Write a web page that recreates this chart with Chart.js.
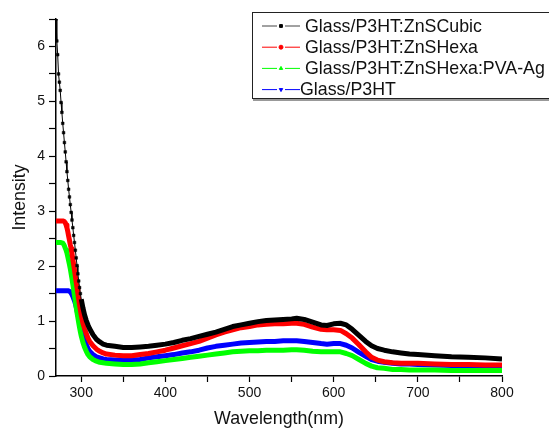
<!DOCTYPE html>
<html>
<head>
<meta charset="utf-8">
<script src="https://cdn.jsdelivr.net/npm/chart.js@4.4.1/dist/chart.umd.min.js"></script>
<style>
  html, body { margin: 0; padding: 0; background: #fff; }
  #wrap { width: 549px; height: 428px; }
</style>
</head>
<body>
<div id="wrap"><canvas id="spectra" width="549" height="428"></canvas></div>
<script>
// Longueurs d'onde (nm), pas fin dans la zone de forte pente
const wavelengths = [
  270, 271, 272, 273, 274, 275, 276, 277, 278, 279, 280, 281, 282, 283, 284, 285,
  286, 287, 288, 289, 290, 291, 292, 293, 294, 295, 296, 297, 298, 299, 300,
  302, 304, 306, 308, 310, 314, 318, 322, 326, 330,
  340, 350, 360, 370, 380, 390, 400, 410, 420, 430, 440, 450, 460, 470, 480, 490,
  500, 510, 520, 530, 540, 550,
  556, 565, 575, 585, 592, 600, 608, 615, 622, 630, 638, 645, 652, 660,
  670, 680, 690, 700,
  720, 740, 760, 780, 800
];

const znsCubic = [
  6.50, 6.10, 5.85, 5.50, 5.35, 5.20, 4.98, 4.80, 4.60, 4.43, 4.25, 4.08, 3.90, 3.72, 3.56, 3.40,
  3.26, 3.12, 2.98, 2.84, 2.70, 2.56, 2.43, 2.29, 2.15, 2.01, 1.86, 1.73, 1.61, 1.50, 1.40,
  1.24, 1.11, 1.01, 0.93, 0.86, 0.75, 0.67, 0.62, 0.58, 0.56,
  0.54, 0.52, 0.52, 0.53, 0.54, 0.56, 0.58, 0.61, 0.65, 0.68, 0.72, 0.76, 0.80, 0.85, 0.90, 0.93,
  0.96, 0.99, 1.01, 1.02, 1.03, 1.04,
  1.05, 1.03, 0.98, 0.93, 0.92, 0.95, 0.96, 0.93, 0.85, 0.74, 0.63, 0.55, 0.50, 0.47,
  0.44, 0.42, 0.40, 0.39,
  0.37, 0.35, 0.34, 0.33, 0.31
];

const znsHexa = [
  2.82, 2.82, 2.82, 2.82, 2.82, 2.82, 2.82, 2.82, 2.82, 2.82, 2.81, 2.79, 2.75, 2.70, 2.63, 2.55,
  2.47, 2.39, 2.32, 2.23, 2.13, 2.03, 1.93, 1.82, 1.71, 1.61, 1.50, 1.39, 1.29, 1.20, 1.11,
  0.96, 0.86, 0.77, 0.69, 0.63, 0.55, 0.49, 0.45, 0.42, 0.40,
  0.38, 0.37, 0.37, 0.39, 0.41, 0.44, 0.47, 0.51, 0.55, 0.59, 0.63, 0.69, 0.75, 0.80, 0.84, 0.88,
  0.90, 0.93, 0.94, 0.95, 0.95, 0.96,
  0.96, 0.94, 0.89, 0.85, 0.84, 0.84, 0.83, 0.77, 0.69, 0.57, 0.44, 0.34, 0.29, 0.26,
  0.24, 0.23, 0.23, 0.23,
  0.22, 0.21, 0.21, 0.20, 0.20
];

const znsHexaPvaAg = [
  2.43, 2.43, 2.43, 2.43, 2.43, 2.43, 2.43, 2.43, 2.42, 2.40, 2.37, 2.33, 2.29, 2.24, 2.17, 2.10,
  2.03, 1.95, 1.86, 1.77, 1.67, 1.57, 1.46, 1.36, 1.25, 1.15, 1.06, 0.97, 0.88, 0.80, 0.73,
  0.61, 0.52, 0.45, 0.39, 0.35, 0.30, 0.27, 0.25, 0.24, 0.23,
  0.22, 0.21, 0.21, 0.22, 0.24, 0.26, 0.28, 0.30, 0.32, 0.34, 0.36, 0.38, 0.40, 0.42, 0.44, 0.45,
  0.46, 0.46, 0.47, 0.47, 0.47, 0.48,
  0.48, 0.47, 0.45, 0.44, 0.44, 0.44, 0.44, 0.41, 0.37, 0.30, 0.23, 0.18, 0.15, 0.14,
  0.12, 0.12, 0.11, 0.11,
  0.11, 0.10, 0.10, 0.10, 0.10
];

const p3htOnly = [
  1.55, 1.55, 1.55, 1.55, 1.55, 1.55, 1.55, 1.55, 1.55, 1.55, 1.55, 1.55, 1.55, 1.55, 1.55, 1.55,
  1.54, 1.53, 1.51, 1.48, 1.45, 1.41, 1.37, 1.32, 1.26, 1.19, 1.12, 1.05, 0.98, 0.91, 0.85,
  0.75, 0.65, 0.57, 0.50, 0.45, 0.39, 0.35, 0.33, 0.31, 0.30,
  0.29, 0.29, 0.29, 0.30, 0.33, 0.35, 0.37, 0.39, 0.42, 0.44, 0.47, 0.51, 0.54, 0.56, 0.58, 0.60,
  0.61, 0.62, 0.63, 0.63, 0.64, 0.64,
  0.64, 0.63, 0.61, 0.59, 0.58, 0.59, 0.59, 0.56, 0.51, 0.43, 0.36, 0.30, 0.27, 0.25,
  0.23, 0.22, 0.22, 0.21,
  0.20, 0.19, 0.19, 0.18, 0.18
];

const seriesNames = ['Glass/P3HT:ZnSCubic', 'Glass/P3HT:ZnSHexa', 'Glass/P3HT:ZnSHexa:PVA-Ag', 'Glass/P3HT'];
const xTickValues = [300, 350, 400, 450, 500, 550, 600, 650, 700, 750, 800];

const FONT = "'Liberation Sans', Arial, sans-serif";
const pts = vals => vals.map((v, i) => ({ x: wavelengths[i], y: v }));

// Légende encadrée façon Origin (trait - symbole - trait)
const legendBox = {
  id: 'legendBox',
  afterDraw(chart) {
    const ctx = chart.ctx;
    ctx.save();
    ctx.strokeStyle = '#222';
    ctx.lineWidth = 1;
    ctx.strokeRect(252.5, 12.5, 310, 86);
    ctx.strokeStyle = '#999';
    ctx.lineWidth = 2;
    ctx.beginPath(); ctx.moveTo(253, 100); ctx.lineTo(549, 100); ctx.stroke();

    ctx.font = '17.8px ' + FONT;
    ctx.textBaseline = 'middle';
    chart.data.datasets.forEach((ds, i) => {
      const y = 26 + i * 21.2;
      ctx.strokeStyle = ds.legendLine;
      ctx.lineWidth = 1;
      ctx.beginPath();
      ctx.moveTo(262, y); ctx.lineTo(277, y);
      ctx.moveTo(285, y); ctx.lineTo(300, y);
      ctx.stroke();
      ctx.fillStyle = ds.borderColor;
      ctx.strokeStyle = ds.borderColor;
      Chart.helpers.drawPoint(ctx, { pointStyle: ds.legendMarker, rotation: ds.legendRotation || 0, radius: 2, borderWidth: 0.5 }, 281, y);
      ctx.fillStyle = '#111';
      ctx.fillText(ds.label, i === 3 ? 300 : 305, y + 1);
    });
    ctx.restore();
  }
};

const ctx = document.getElementById('spectra').getContext('2d');
new Chart(ctx, {
  type: 'line',
  data: {
    datasets: [
      {
        label: seriesNames[0], data: pts(znsCubic), borderColor: '#000', backgroundColor: '#000',
        legendLine: '#444', legendMarker: 'rect',
        borderWidth: 5,
        segment: { borderWidth: c => c.p0.parsed.x < 300 ? 1 : 5 },
        pointStyle: 'rect',
        pointBorderWidth: 0.5,
        pointRadius: c => (c.raw && c.raw.x < 300) ? 1.9 : 0
      },
      {
        label: seriesNames[1], data: pts(znsHexa), borderColor: '#ff0000', backgroundColor: '#ff0000',
        legendLine: '#ff0000', legendMarker: 'circle', borderWidth: 5, pointRadius: 0
      },
      {
        label: seriesNames[2], data: pts(znsHexaPvaAg), borderColor: '#00ff00', backgroundColor: '#00ff00',
        legendLine: '#00ff00', legendMarker: 'triangle', borderWidth: 5, pointRadius: 0
      },
      {
        label: seriesNames[3], data: pts(p3htOnly), borderColor: '#0000ff', backgroundColor: '#0000ff',
        legendLine: '#0000ff', legendMarker: 'triangle', legendRotation: 180, borderWidth: 5, pointRadius: 0
      }
    ]
  },
  options: {
    responsive: false,
    animation: false,
    elements: { line: { borderCapStyle: 'butt', borderJoinStyle: 'round', tension: 0 } },
    layout: { padding: { top: 19, right: 47, left: 0, bottom: 0 } },
    plugins: { legend: { display: false }, tooltip: { enabled: false } },
    scales: {
      x: {
        type: 'linear', min: 270, max: 800,
        afterBuildTicks: s => { s.ticks = xTickValues.map(v => ({ value: v })); },
        afterFit: s => { s.height = 52; },
        ticks: {
          callback: v => (v % 100 === 0 ? v : ''),
          font: { family: FONT, size: 14 }, color: '#111', padding: 3, maxRotation: 0, autoSkip: false
        },
        grid: { drawOnChartArea: false, tickLength: 6, tickColor: '#000', tickWidth: 1.2 },
        border: { color: '#000', width: 1.5 },
        title: { display: true, text: 'Wavelength(nm)', color: '#111',
                 font: { family: FONT, size: 17.8, lineHeight: 1 }, padding: { top: 0, bottom: 0 } }
      },
      y: {
        min: 0, max: 6.5,
        afterFit: s => { s.width = 56; },
        ticks: {
          stepSize: 0.5,
          callback: v => (Number.isInteger(v) ? v : ''),
          font: { family: FONT, size: 14 }, color: '#111', padding: 4
        },
        grid: { drawOnChartArea: false, tickLength: 7, tickColor: '#000', tickWidth: 1.2 },
        border: { color: '#000', width: 1.5 },
        title: { display: true, text: 'Intensity', color: '#111',
                 font: { family: FONT, size: 17.8, lineHeight: 1 }, padding: { top: 11, bottom: 0 } }
      }
    }
  },
  plugins: [legendBox]
});
</script>
</body>
</html>
